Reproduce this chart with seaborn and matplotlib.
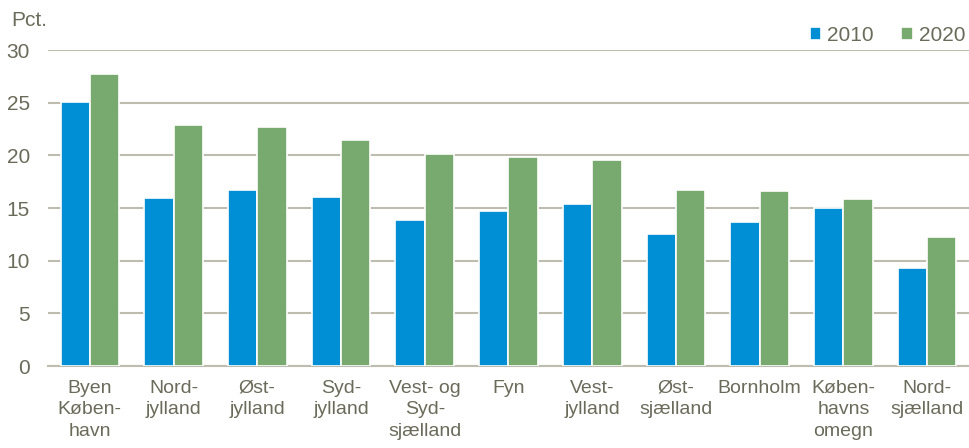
import matplotlib
matplotlib.use('Agg')
import matplotlib.pyplot as plt
import pandas as pd
import seaborn as sns

# Data
regions = ['Byen\nKøben-\nhavn', 'Nord-\njylland', 'Øst-\njylland', 'Syd-\njylland',
           'Vest- og\nSyd-\nsjælland', 'Fyn', 'Vest-\njylland', 'Øst-\nsjælland',
           'Bornholm', 'Køben-\nhavns\nomegn', 'Nord-\nsjælland']
values_2010 = [25.1, 16.0, 16.7, 16.1, 13.9, 14.7, 15.4, 12.5, 13.7, 15.0, 9.3]
values_2020 = [27.7, 22.9, 22.7, 21.5, 20.1, 19.9, 19.6, 16.7, 16.6, 15.9, 12.3]
years = ['2010', '2020']

df = pd.DataFrame({'region': regions * 2,
                   'year': [years[0]] * len(regions) + [years[1]] * len(regions),
                   'value': values_2010 + values_2020})

sns.set_style('white')
plt.rcParams['font.family'] = ['Liberation Sans', 'DejaVu Sans']
text_col = '#6b6b5b'
grid_col = '#bdbcae'

fig = plt.figure(figsize=(9.69, 4.48), dpi=100)
ax = fig.add_axes([0.0495, 0.183, 0.9505, 0.705])

sns.barplot(data=df, x='region', y='value', hue='year',
            palette=['#008fd5', '#78aa6f'], saturation=1, width=0.7,
            edgecolor='white', linewidth=1.2, ax=ax, zorder=3)

ax.set_ylim(0, 30)
ax.set_yticks(range(0, 31, 5))
ax.set_xlim(-0.5, len(regions) - 0.5)
ax.yaxis.grid(True, color=grid_col, linewidth=1.5, zorder=0)
ax.set_axisbelow(True)
for s in ['top', 'right', 'left']:
    ax.spines[s].set_visible(False)
ax.spines['bottom'].set_color(grid_col)
ax.spines['bottom'].set_linewidth(1.5)
ax.tick_params(axis='y', length=0, pad=13, labelsize=15, labelcolor=text_col)
ax.tick_params(axis='x', length=0, pad=10, labelsize=14, labelcolor=text_col)
ax.set_xticks(range(len(regions)), labels=regions, linespacing=1.35,
              ha='center', multialignment='center')
ax.set_xlabel('')
ax.set_ylabel('')

fig.text(0.012, 0.955, 'Pct.', fontsize=15, color=text_col, va='center', ha='left')

leg = ax.legend(loc='lower right', bbox_to_anchor=(1.005, 0.99), ncol=2, frameon=False,
                fontsize=15, handlelength=0.55, handleheight=0.55, handletextpad=0.3,
                columnspacing=1.3, borderaxespad=0)
for t in leg.get_texts():
    t.set_color(text_col)

fig.savefig('out.png', dpi=100)
